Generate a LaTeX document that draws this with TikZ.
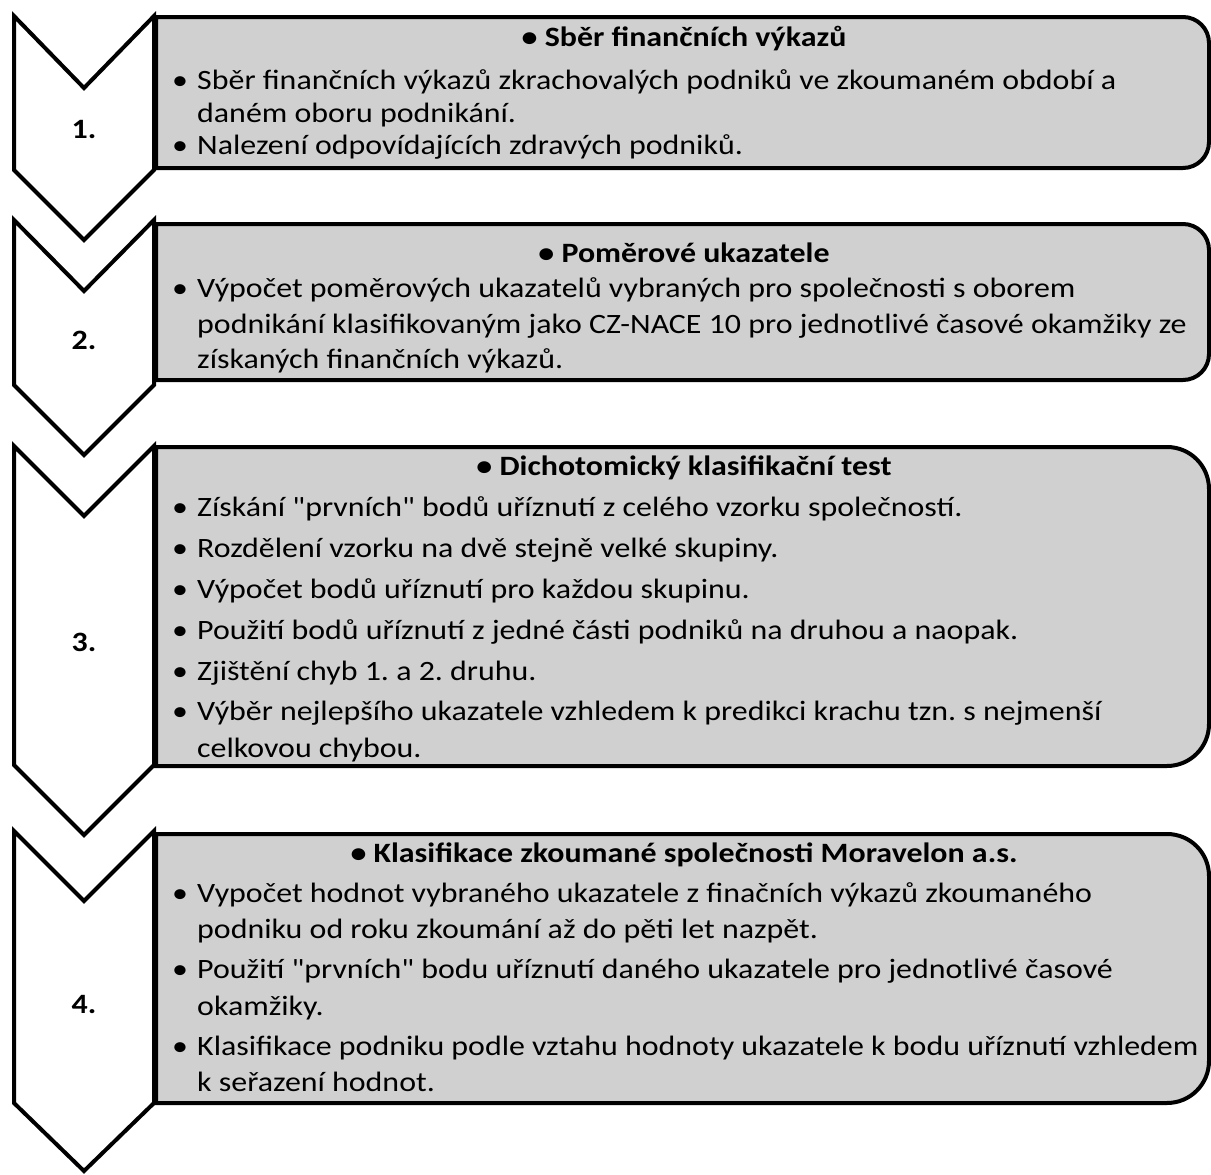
\documentclass[tikz,border=0pt]{standalone}
\usepackage{fontspec}
\setmainfont{Carlito}[FakeStretch=1.14,Ligatures=TeXOff]
\frenchspacing
\begin{document}
\begin{tikzpicture}[x=1pt,y=1pt,
  chev/.style={draw=black,fill=white,line width=4pt,line join=miter},
  panel/.style={draw=black,fill=panelgray,line width=4pt,line join=miter},
  txt/.style={inner sep=0pt,anchor=base west,font=\fontsize{28}{33}\selectfont},
  dot/.style={inner sep=0pt,anchor=base west,font=\fontsize{28}{33}\selectfont},
  head/.style={inner sep=0pt,anchor=base,font=\fontsize{28}{33}\selectfont\bfseries},
  num/.style={inner sep=0pt,font=\fontsize{28}{33}\selectfont\bfseries}]
\definecolor{panelgray}{RGB}{208,208,208}
\useasboundingbox (0,0) rectangle (1211,-1175);

% chevrons on the left
\draw[chev] (14,-16) -- (84,-88) -- (154,-16) -- (154,-170) -- (84,-240) -- (14,-170) -- cycle;
\draw[chev] (14,-220) -- (84,-291) -- (154,-220) -- (154,-385) -- (84,-455) -- (14,-385) -- cycle;
\draw[chev] (14,-446) -- (84,-516) -- (154,-446) -- (154,-765) -- (84,-835) -- (14,-765) -- cycle;
\draw[chev] (14,-831) -- (84,-901) -- (154,-831) -- (154,-1103) -- (84,-1171) -- (14,-1103) -- cycle;

% grey panels, rounded on the right side
\draw[panel] (156,-17) -- (1183,-17) arc[start angle=90,end angle=0,radius=26pt]
  -- (1209,-142) arc[start angle=0,end angle=-90,radius=26pt] -- (156,-168) -- cycle;
\draw[panel] (156,-224) -- (1183,-224) arc[start angle=90,end angle=0,radius=26pt]
  -- (1209,-354) arc[start angle=0,end angle=-90,radius=26pt] -- (156,-380) -- cycle;
\draw[panel] (156,-447) -- (1167,-447) arc[start angle=90,end angle=0,radius=42pt]
  -- (1209,-724) arc[start angle=0,end angle=-90,radius=42pt] -- (156,-766) -- cycle;
\draw[panel] (156,-834) -- (1167,-834) arc[start angle=90,end angle=0,radius=42pt]
  -- (1209,-1061) arc[start angle=0,end angle=-90,radius=42pt] -- (156,-1103) -- cycle;

% step numbers
\node[num] (n1) at (84,-130) {1.};
\node[num] (n2) at (84,-340) {2.};
\node[num] (n3) at (84,-642) {3.};
\node[num] (n4) at (84,-1005) {4.};

% step 1
\node[head] (h1) at (684,-46) {• Sběr finančních výkazů};
\node[dot] (d11) at (172,-89) {•};
\node[txt] (t11) at (197,-89) {Sběr finančních výkazů zkrachovalých podniků ve zkoumaném období a};
\node[txt] (t12) at (197,-122) {daném oboru podnikání.};
\node[dot] (d12) at (172,-154) {•};
\node[txt] (t13) at (197,-154) {Nalezení odpovídajících zdravých podniků.};

% step 2
\node[head] (h2) at (684,-262) {• Poměrové ukazatele};
\node[dot] (d21) at (172,-297) {•};
\node[txt] (t21) at (197,-297) {Výpočet poměrových ukazatelů vybraných pro společnosti s oborem};
\node[txt] (t22) at (197,-333) {podnikání klasifikovaným jako CZ-NACE 10 pro jednotlivé časové okamžiky ze};
\node[txt] (t23) at (197,-368) {získaných finančních výkazů.};

% step 3
\node[head] (h3) at (684,-475) {• Dichotomický klasifikační test};
\node[dot] (d31) at (172,-516) {•};
\node[txt] (t31) at (197,-516) {Získání "prvních" bodů uříznutí z celého vzorku společností.};
\node[dot] (d32) at (172,-557) {•};
\node[txt] (t32) at (197,-557) {Rozdělení vzorku na dvě stejně velké skupiny.};
\node[dot] (d33) at (172,-598) {•};
\node[txt] (t33) at (197,-598) {Výpočet bodů uříznutí pro každou skupinu.};
\node[dot] (d34) at (172,-639) {•};
\node[txt] (t34) at (197,-639) {Použití bodů uříznutí z jedné části podniků na druhou a naopak.};
\node[dot] (d35) at (172,-680) {•};
\node[txt] (t35) at (197,-680) {Zjištění chyb 1. a 2. druhu.};
\node[dot] (d36) at (172,-720) {•};
\node[txt] (t36) at (197,-720) {Výběr nejlepšího ukazatele vzhledem k predikci krachu tzn. s nejmenší};
\node[txt] (t37) at (197,-757) {celkovou chybou.};

% step 4
\node[head] (h4) at (684,-862) {• Klasifikace zkoumané společnosti Moravelon a.s.};
\node[dot] (d41) at (172,-902) {•};
\node[txt] (t41) at (197,-902) {Vypočet hodnot vybraného ukazatele z finačních výkazů zkoumaného};
\node[txt] (t42) at (197,-938) {podniku od roku zkoumání až do pěti let nazpět.};
\node[dot] (d42) at (172,-978) {•};
\node[txt] (t43) at (197,-978) {Použití "prvních" bodu uříznutí daného ukazatele pro jednotlivé časové};
\node[txt] (t44) at (197,-1015) {okamžiky.};
\node[dot] (d43) at (172,-1055) {•};
\node[txt] (t45) at (197,-1055) {Klasifikace podniku podle vztahu hodnoty ukazatele k bodu uříznutí vzhledem};
\node[txt] (t46) at (197,-1091) {k seřazení hodnot.};
\end{tikzpicture}
\end{document}
